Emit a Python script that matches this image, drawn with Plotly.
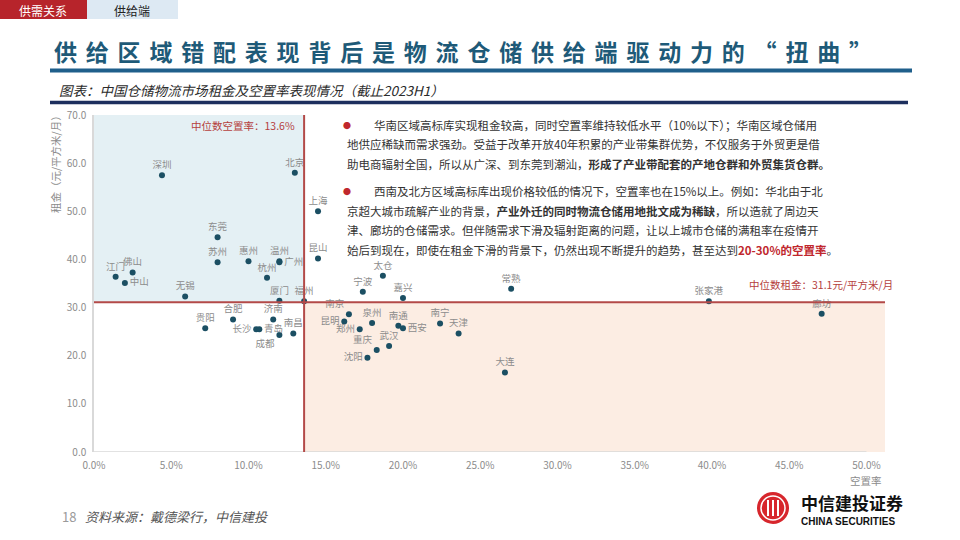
import plotly.graph_objects as go

# 数据：中国仓储物流市场租金及空置率（截止2023H1）
cities = ['深圳', '北京', '上海', '东莞', '苏州', '惠州', '温州', '广州', '昆山', '杭州',
          '江门', '佛山', '中山', '无锡', '厦门', '福州', '贵阳', '合肥', '济南', '长沙',
          '青岛', '成都', '南昌', '太仓', '宁波', '嘉兴', '常熟', '南京', '昆明', '泉州',
          '郑州', '南通', '西安', '南宁', '天津', '武汉', '重庆', '沈阳', '大连', '张家港', '廊坊']
vacancy = [4.4, 13.0, 14.5, 8.0, 8.0, 10.0, 12.0, 12.0, 14.5, 11.2,
           1.4, 2.5, 2.0, 5.9, 12.0, 13.6, 7.2, 9.0, 11.6, 10.5,
           10.7, 12.0, 12.9, 18.7, 17.4, 20.0, 27.0, 16.5, 16.2, 18.0,
           17.2, 19.7, 20.0, 22.4, 23.6, 19.1, 18.3, 17.7, 26.6, 39.8, 47.1]
rent = [57.5, 58.0, 50.0, 44.6, 39.4, 39.6, 39.6, 39.4, 40.2, 36.2,
        36.4, 37.3, 35.1, 32.3, 31.4, 31.3, 25.7, 27.5, 27.5, 25.5,
        25.5, 24.3, 24.6, 36.6, 33.3, 32.0, 33.9, 28.6, 27.1, 26.8,
        25.5, 26.2, 25.7, 26.7, 24.6, 22.0, 21.2, 19.6, 16.5, 31.3, 28.7]
median_vacancy = 13.6
median_rent = 31.1
x_ticks = [0, 5, 10, 15, 20, 25, 30, 35, 40, 45, 50]
x_ticktext = ['0.0%', '5.0%', '10.0%', '15.0%', '20.0%', '25.0%', '30.0%', '35.0%', '40.0%', '45.0%', '50.0%']
y_ticks = [0, 10, 20, 30, 40, 50, 60, 70]

# 标签位置（默认在点上方）
label_pos = {'中山': 'middle right', '广州': 'middle right', '长沙': 'middle left',
             '青岛': 'middle right', '成都': 'bottom left', '南京': 'top left',
             '昆明': 'middle left', '郑州': 'middle left', '西安': 'middle right',
             '重庆': 'top left', '沈阳': 'middle left'}
positions = [label_pos.get(c, 'top center') for c in cities]

FONT = 'Noto Sans CJK SC'
W, H = 960, 540
L, R, T, B = 94, 885, 115, 452
XMAX = 51.2


def px(x):
    return (x - L) / (R - L)


def py(y):
    return (B - y) / (B - T)


def note(x, y, text, size, color, xanchor='left', family=FONT, **kw):
    fig.add_annotation(x=px(x), y=py(y), xref='paper', yref='paper', xanchor=xanchor, yanchor='middle',
                       showarrow=False, text=text, font={'family': family, 'size': size, 'color': color}, **kw)


fig = go.Figure()
fig.add_trace(go.Scatter(
    x=vacancy, y=rent, mode='markers+text', text=cities, textposition=positions,
    marker={'color': '#1b4f63', 'size': 6},
    textfont={'family': FONT, 'size': 9.5, 'color': '#8c8c8c'},
    hoverinfo='text+x+y', showlegend=False, cliponaxis=False))

# 象限底色与中位数线
fig.add_shape(type='rect', x0=0, x1=median_vacancy, y0=median_rent, y1=70,
              fillcolor='#e4f0f4', line_width=0, layer='below')
fig.add_shape(type='rect', x0=median_vacancy, x1=XMAX, y0=0, y1=median_rent,
              fillcolor='#fcede3', line_width=0, layer='below')
fig.add_shape(type='line', x0=0, x1=50, y0=0, y1=0, line={'color': '#d9d9d9', 'width': 1.5})
fig.add_shape(type='line', x0=0, x1=XMAX, y0=median_rent, y1=median_rent,
              line={'color': '#b34a48', 'width': 2})
fig.add_shape(type='line', x0=median_vacancy, x1=median_vacancy, y0=0, y1=70,
              line={'color': '#b34a48', 'width': 2})

fig.add_annotation(x=median_vacancy, y=70, xref='x', yref='y', xanchor='right', yanchor='top',
                   xshift=-7, yshift=-1, showarrow=False,
                   text='中位数空置率：13.6%', font={'family': FONT, 'size': 10.5, 'color': '#b5403d'})
fig.add_annotation(x=1, y=median_rent, xref='paper', yref='y', xanchor='right', yanchor='bottom',
                   xshift=10, yshift=8, showarrow=False,
                   text='中位数租金：31.1元/平方米/月', font={'family': FONT, 'size': 10.5, 'color': '#b5403d'})

# 坐标轴标题
note(55, 162, '租金（元/平方米/月）', 10.5, '#8c8c8c', xanchor='center', textangle=-90)
note(866, 480, '空置率', 10.5, '#8c8c8c', xanchor='center', borderpad=0)

# 页眉
fig.add_shape(type='rect', xref='paper', yref='paper', x0=px(0), x1=px(87), y0=py(0), y1=py(19),
              fillcolor='#b7242b', line_width=0)
fig.add_shape(type='rect', xref='paper', yref='paper', x0=px(87), x1=px(178), y0=py(0), y1=py(19),
              fillcolor='#dde9f3', line_width=0)
note(43, 10, '供需关系', 12, 'white', xanchor='center')
note(132, 10, '供给端', 12, '#222222', xanchor='center')

note(52, 51, '<b><span style="letter-spacing:8.8px">供给区域错配表现背后是物流仓储供给端驱动力的“扭曲”</span></b>',
     23, '#1e5a78')
fig.add_shape(type='line', xref='paper', yref='paper', x0=px(50), x1=px(912), y0=py(70.5), y1=py(70.5),
              line={'color': '#1f5f8b', 'width': 4})
note(57, 90, '<i>图表：中国仓储物流市场租金及空置率表现情况（截止2023H1）</i>', 13.5, '#2b2b2b')
fig.add_shape(type='line', xref='paper', yref='paper', x0=px(50), x1=px(908), y0=py(102.5), y1=py(102.5),
              line={'color': '#1d2f5e', 'width': 3.5})

# 右侧说明文字
RED = '#c0272d'
lines = [
    (372, 125, '华南区域高标库实现租金较高，同时空置率维持较低水平（10%以下）；华南区域仓储用'),
    (345, 144, '地供应稀缺而需求强劲。受益于改革开放40年积累的产业带集群优势，不仅服务于外贸更是借'),
    (345, 163.5, '助电商辐射全国，所以从广深、到东莞到潮汕，<b>形成了产业带配套的产地仓群和外贸集货仓群。</b>'),
    (372, 191, '西南及北方区域高标库出现价格较低的情况下，空置率也在15%以上。例如：华北由于北'),
    (345, 210.5, '京超大城市疏解产业的背景，<b>产业外迁的同时物流仓储用地批文成为稀缺</b>，所以造就了周边天'),
    (345, 230, '津、廊坊的仓储需求。但伴随需求下滑及辐射距离的问题，让以上城市仓储的满租率在疫情开'),
    (345, 249.5, '始后到现在，即使在租金下滑的背景下，仍然出现不断提升的趋势，甚至达到'
                 f'<b><span style="color:{RED}">20-30%的空置率</span></b>。'),
]
for x0, y0, t in lines:
    note(x0, y0, t, 11.5, '#333333')
for y0 in (125, 191):
    note(347, y0, '●', 8, RED, xanchor='center')

# 页脚
note(60, 516, '18', 13, '#9a9a9a')
note(83, 516, '<i>资料来源：戴德梁行，中信建投</i>', 13, '#555555')

# 标志
fig.add_shape(type='circle', xref='paper', yref='paper', x0=px(757), x1=px(789), y0=py(492), y1=py(524),
              fillcolor='#d7262c', line_width=0)
fig.add_shape(type='circle', xref='paper', yref='paper', x0=px(761), x1=px(785), y0=py(496), y1=py(520),
              line={'color': 'white', 'width': 1.5})
for xv in (768, 773, 778):
    fig.add_shape(type='line', xref='paper', yref='paper', x0=px(xv), x1=px(xv), y0=py(500), y1=py(516),
                  line={'color': 'white', 'width': 2})
note(800, 502, '<b>中信建投证券</b>', 17, '#111111', borderpad=0)
note(800, 521, '<b>CHINA SECURITIES</b>', 10, '#111111', family='Liberation Sans', borderpad=0)

fig.update_xaxes(range=[0, XMAX], tickvals=x_ticks, ticktext=x_ticktext,
                 showgrid=False, zeroline=False, showline=False, ticks='', ticklabelstandoff=6,
                 tickfont={'family': FONT, 'size': 10, 'color': '#8c8c8c'})
fig.update_yaxes(range=[0, 70], tickvals=y_ticks, tickformat='.1f',
                 showgrid=False, zeroline=False, showline=True, linecolor='#d9d9d9', linewidth=1.5, ticks='',
                 ticklabelstandoff=4,
                 tickfont={'family': FONT, 'size': 10, 'color': '#8c8c8c'})
fig.update_layout(width=W, height=H, autosize=False,
                  margin={'l': L, 'r': W - R, 't': T, 'b': H - B},
                  plot_bgcolor='white', paper_bgcolor='white', showlegend=False,
                  font={'family': FONT})

fig.write_html('out.html', config={'displayModeBar': False},
               post_script="document.body.style.margin='0';")
